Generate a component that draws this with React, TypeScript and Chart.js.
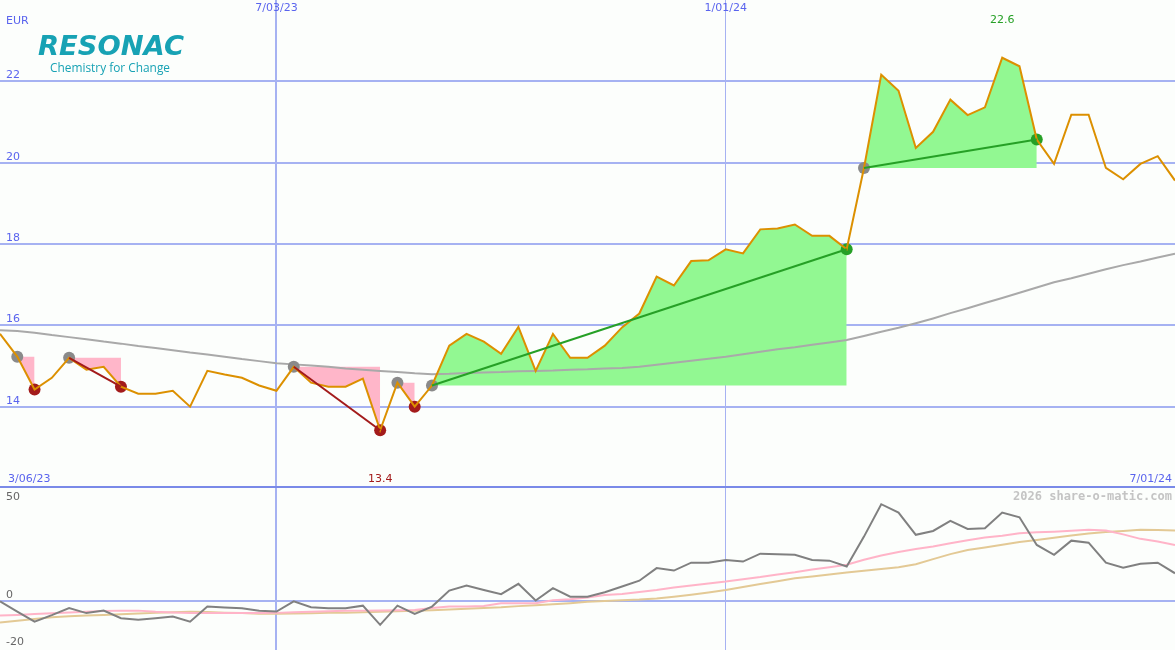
import { useEffect, useRef } from 'react';
import { Chart, registerables } from 'chart.js';

Chart.register(...registerables);

// ---------- data ----------
const firstWeek = '2023-03-13';
const weekCount = 69;
const categories: string[] = Array.from({ length: weekCount }, (_, i) => {
  const d = new Date(firstWeek + 'T00:00:00Z');
  d.setUTCDate(d.getUTCDate() + 7 * i);
  const m = d.getUTCMonth() + 1;
  const day = String(d.getUTCDate()).padStart(2, '0');
  const yy = String(d.getUTCFullYear() % 100).padStart(2, '0');
  return `${m}/${day}/${yy}`;
});

const price = [
  15.79, 15.23, 14.42, 14.71, 15.2, 14.91, 14.98, 14.49, 14.32, 14.32,
  14.39, 14.0, 14.88, 14.79, 14.71, 14.52, 14.39, 14.98, 14.59, 14.49,
  14.49, 14.69, 13.42, 14.59, 14.0, 14.52, 15.5, 15.79, 15.6, 15.3,
  15.96, 14.88, 15.79, 15.2, 15.2, 15.5, 15.95, 16.29, 17.2, 16.98,
  17.58, 17.6, 17.87, 17.77, 18.36, 18.38, 18.48, 18.2, 18.2, 17.87,
  19.87, 22.16, 21.77, 20.36, 20.76, 21.55, 21.17, 21.36, 22.58, 22.37,
  20.57, 19.97, 21.18, 21.18, 19.87, 19.59, 19.97, 20.16, 19.56,
];

const movingAvg = [
  15.88, 15.86, 15.82, 15.76, 15.71, 15.66, 15.6, 15.55, 15.49, 15.44,
  15.39, 15.33, 15.28, 15.23, 15.17, 15.12, 15.07, 15.04, 15.01, 14.98,
  14.94, 14.91, 14.88, 14.85, 14.82, 14.8, 14.81, 14.83, 14.84, 14.85,
  14.87, 14.88, 14.89, 14.91, 14.92, 14.94, 14.95, 14.98, 15.03, 15.08,
  15.13, 15.18, 15.23, 15.29, 15.35, 15.41, 15.46, 15.52, 15.58, 15.64,
  15.74, 15.84, 15.94, 16.05, 16.17, 16.3, 16.42, 16.55, 16.67, 16.8,
  16.93, 17.06, 17.16, 17.27, 17.38, 17.48, 17.57, 17.67, 17.76,
];

const momentum = [
  0, -4.5, -9.0, -6.1, -3.0, -5.2, -4.1, -7.5, -8.2, -7.5,
  -6.7, -9.0, -2.3, -2.7, -3.0, -4.2, -4.5, 0, -2.6, -3.0,
  -3.0, -1.9, -10.4, -1.9, -5.6, -2.3, 4.8, 7.0, 5.1, 3.2,
  7.8, 0.4, 5.9, 2.1, 2.1, 4.1, 6.6, 9.2, 14.8, 13.7,
  17.2, 17.2, 18.4, 17.7, 21.2, 21.0, 20.7, 18.4, 18.1, 15.5,
  28.8, 43.2, 39.5, 29.6, 31.3, 35.8, 32.2, 32.5, 39.5, 37.4,
  25.1, 20.7, 27.0, 26.1, 17.2, 15.0, 16.7, 17.2, 12.5,
];

const signalFast = [
  -6.3, -6.0, -5.6, -5.3, -4.9, -4.6, -4.3, -4.1, -4.1, -4.6,
  -4.9, -5.2, -5.2, -5.2, -5.2, -5.2, -5.1, -4.8, -4.6, -4.4,
  -4.2, -4.1, -4.0, -3.9, -3.8, -2.9, -2.3, -2.3, -2.0, -0.8,
  -0.8, -0.8, 0.5, 1.0, 1.7, 2.8, 3.3, 4.2, 5.1, 6.2,
  7.1, 8.0, 8.8, 9.8, 10.8, 12.0, 13.0, 14.2, 15.2, 16.3,
  18.5, 20.4, 22.0, 23.3, 24.4, 25.8, 27.2, 28.4, 29.2, 30.3,
  30.7, 31.0, 31.4, 31.8, 31.5, 29.8, 27.8, 26.6, 25.1,
];

const signalSlow = [
  -9.4, -8.6, -7.8, -7.0, -6.6, -6.3, -6.0, -5.7, -5.4, -5.1,
  -4.8, -4.6, -4.7, -5.0, -5.2, -5.5, -5.5, -5.4, -5.3, -5.1,
  -5.0, -4.8, -4.6, -4.4, -4.2, -3.9, -3.6, -3.3, -2.9, -2.6,
  -2.1, -1.7, -1.3, -0.8, -0.2, 0.2, 0.5, 0.8, 1.3, 2.1,
  3.0, 4.0, 5.1, 6.4, 7.7, 9.0, 10.3, 11.1, 12.0, 12.8,
  13.6, 14.4, 15.2, 16.5, 18.8, 21.0, 22.8, 24.0, 25.2, 26.4,
  27.3, 28.3, 29.3, 30.2, 30.8, 31.3, 31.8, 31.7, 31.5,
];

// falling and rising moves: [start index, end index]
const downMoves = [[1, 2], [4, 7], [17, 22], [23, 24]];
const upMoves = [[25, 49], [50, 60]];

const gridDates = ['7/03/23', '1/01/24'];
const rangeLabels = ['3/06/23', '7/01/24'];
const priceTicks = [14, 16, 18, 20, 22];
const oscTicks = [0];
const oscLabels = ['50', '0', '-20'];
const currency = 'EUR';
const logoName = 'RESONAC';
const logoTagline = 'Chemistry for Change';
const watermark = '2026 share-o-matic.com';

// ---------- styles ----------
const BG = '#fcfefc';
const GRID = '#a6b2f2';
const BLUE_TEXT = '#5a64ee';
const ORANGE = '#dc9000';
const GREEN_FILL = '#92f892';
const GREEN_LINE = '#26a026';
const PINK_FILL = '#ffb6c9';
const RED = '#a31b1b';
const DOT_GRAY = '#8a8a8a';
const MA_GRAY = '#a9a9a9';
const TEAL = '#17a2b4';
const FONT = '"DejaVu Sans", sans-serif';

const gridIdx = gridDates.map((d) => categories.indexOf(d));

const onSegment = (a: number, b: number) => price.map((v, i) => (i >= a && i <= b ? v : null));
const atEnds = (a: number, b: number) => price.map((v, i) => (i === a || i === b ? v : null));
const atIndices = (idx: number[]) => price.map((v, i) => (idx.includes(i) ? v : null));

const bgPlugin = {
  id: 'bg',
  beforeDraw(chart: any) {
    const { ctx, width, height } = chart;
    ctx.save();
    ctx.fillStyle = BG;
    ctx.fillRect(0, 0, width, height);
    ctx.restore();
  },
};

const xAxis = (widths: number[]) => ({
  type: 'category' as const,
  display: true,
  offset: false,
  ticks: { display: false },
  border: { display: false },
  grid: {
    drawTicks: false,
    offset: false,
    color: (c: any) => (gridIdx.includes(c.index) ? GRID : 'transparent'),
    lineWidth: (c: any) => {
      const k = gridIdx.indexOf(c.index);
      return k >= 0 ? widths[k] : 0;
    },
  },
});

export default function App() {
  const topRef = useRef<HTMLCanvasElement>(null);
  const botRef = useRef<HTMLCanvasElement>(null);

  useEffect(() => {
    const topOverlay = {
      id: 'topOverlay',
      afterDraw(chart: any) {
        const { ctx, width, height } = chart;
        const xs = chart.scales.x;
        const ys = chart.scales.y;
        ctx.save();
        ctx.font = `11px ${FONT}`;
        ctx.textBaseline = 'middle';
        ctx.fillStyle = BLUE_TEXT;
        ctx.textAlign = 'left';
        ctx.fillText(currency, 6, 21);
        priceTicks.forEach((v) => ctx.fillText(String(v), 6, ys.getPixelForValue(v) - 6));
        ctx.textAlign = 'center';
        gridDates.forEach((d) => {
          const i = categories.indexOf(d);
          ctx.fillText(d, xs.getPixelForValue(i), 8);
        });
        ctx.textAlign = 'left';
        ctx.fillText(rangeLabels[0], 8, height - 9);
        ctx.textAlign = 'right';
        ctx.fillText(rangeLabels[1], width - 3, height - 9);
        // min / max
        const minV = Math.min(...price);
        const maxV = Math.max(...price);
        ctx.textAlign = 'center';
        ctx.fillStyle = RED;
        ctx.fillText(minV.toFixed(1), xs.getPixelForValue(price.indexOf(minV)), height - 9);
        ctx.fillStyle = GREEN_LINE;
        ctx.fillText(maxV.toFixed(1), xs.getPixelForValue(price.indexOf(maxV)), 20);
        // separator
        ctx.fillStyle = '#7a8ae8';
        ctx.fillRect(0, height - 2, width, 2);
        // logo
        ctx.fillStyle = TEAL;
        ctx.textAlign = 'left';
        ctx.textBaseline = 'alphabetic';
        ctx.font = `italic bold 26px ${FONT}`;
        let w = ctx.measureText(logoName).width;
        ctx.save();
        ctx.translate(38, 55);
        ctx.scale(146 / w, 1);
        ctx.fillText(logoName, 0, 0);
        ctx.restore();
        ctx.font = `12px "Open Sans", ${FONT}`;
        w = ctx.measureText(logoTagline).width;
        ctx.save();
        ctx.translate(50, 72);
        ctx.scale(120 / w, 1);
        ctx.fillText(logoTagline, 0, 0);
        ctx.restore();
        ctx.restore();
      },
    };

    const botOverlay = {
      id: 'botOverlay',
      afterDraw(chart: any) {
        const { ctx, width, height } = chart;
        const ys = chart.scales.y;
        ctx.save();
        ctx.font = `11px ${FONT}`;
        ctx.textBaseline = 'middle';
        ctx.textAlign = 'left';
        ctx.fillStyle = '#666666';
        ctx.fillText(oscLabels[0], 6, 9);
        ctx.fillText(oscLabels[1], 6, ys.getPixelForValue(0) - 6);
        ctx.fillText(oscLabels[2], 6, height - 8);
        ctx.font = `bold 12px "DejaVu Sans Mono", monospace`;
        ctx.fillStyle = '#c4c4c4';
        ctx.textAlign = 'right';
        ctx.fillText(watermark, width - 3, 9);
        ctx.restore();
      },
    };

    const trendSets: any[] = [];
    downMoves.filter(([a, b]) => b - a > 1).forEach(([a, b]) =>
      trendSets.push({ data: atEnds(a, b), borderColor: RED, borderWidth: 2, pointRadius: 0, spanGaps: true, fill: false }),
    );
    upMoves.forEach(([a, b]) =>
      trendSets.push({ data: atEnds(a, b), borderColor: GREEN_LINE, borderWidth: 2, pointRadius: 0, spanGaps: true, fill: false }),
    );

    const dotSet = (idx: number[], color: string) => ({
      data: atIndices(idx),
      showLine: false,
      pointRadius: 6,
      pointBorderWidth: 0,
      pointBackgroundColor: color,
      pointBorderColor: color,
      borderColor: color,
      fill: false,
    });

    const fillSet = (a: number, b: number, color: string) => ({
      data: onSegment(a, b),
      fill: { value: price[a] },
      backgroundColor: color,
      borderColor: 'transparent',
      borderWidth: 0,
      pointRadius: 0,
      spanGaps: false,
    });

    const top = new Chart(topRef.current!, {
      type: 'line',
      data: {
        labels: categories,
        datasets: [
          ...trendSets,
          { data: price, borderColor: ORANGE, borderWidth: 2, pointRadius: 0, fill: false, tension: 0 },
          dotSet([...downMoves.map((m) => m[0]), ...upMoves.map((m) => m[0])], DOT_GRAY),
          dotSet(downMoves.map((m) => m[1]), RED),
          dotSet(upMoves.map((m) => m[1]), GREEN_LINE),
          { data: movingAvg, borderColor: MA_GRAY, borderWidth: 2, pointRadius: 0, fill: false },
          ...downMoves.map(([a, b]) => fillSet(a, b, PINK_FILL)),
          ...upMoves.map(([a, b]) => fillSet(a, b, GREEN_FILL)),
        ],
      },
      options: {
        responsive: false,
        animation: false,
        devicePixelRatio: 1,
        events: [],
        layout: { padding: 0, autoPadding: false },
        plugins: { legend: { display: false }, tooltip: { enabled: false } },
        scales: {
          x: xAxis([2, 1]),
          y: {
            type: 'linear',
            min: 12,
            max: 24,
            afterBuildTicks: (s: any) => {
              s.ticks = priceTicks.map((v) => ({ value: v }));
            },
            ticks: { display: false },
            border: { display: false },
            grid: { drawTicks: false, color: GRID, lineWidth: 2 },
          },
        },
      },
      plugins: [bgPlugin, topOverlay],
    } as any);

    const bot = new Chart(botRef.current!, {
      type: 'line',
      data: {
        labels: categories,
        datasets: [
          { data: momentum, borderColor: '#808080', borderWidth: 2, pointRadius: 0, fill: false },
          { data: signalFast, borderColor: '#ffb4c8', borderWidth: 2, pointRadius: 0, fill: false },
          { data: signalSlow, borderColor: '#e3c995', borderWidth: 2, pointRadius: 0, fill: false },
        ],
      },
      options: {
        responsive: false,
        animation: false,
        devicePixelRatio: 1,
        events: [],
        layout: { padding: 0, autoPadding: false },
        plugins: { legend: { display: false }, tooltip: { enabled: false } },
        scales: {
          x: xAxis([2, 1]),
          y: {
            type: 'linear',
            min: -21.6,
            max: 50.4,
            afterBuildTicks: (s: any) => {
              s.ticks = oscTicks.map((v) => ({ value: v }));
            },
            ticks: { display: false },
            border: { display: false },
            grid: { drawTicks: false, color: GRID, lineWidth: 2 },
          },
        },
      },
      plugins: [bgPlugin, botOverlay],
    } as any);

    return () => {
      top.destroy();
      bot.destroy();
    };
  }, []);

  return (
    <div style={{ position: 'absolute', left: 0, top: 0, width: 1175, height: 650, background: BG }}>
      <canvas ref={topRef} width={1175} height={488} style={{ position: 'absolute', left: 0, top: 0, display: 'block' }} />
      <canvas ref={botRef} width={1175} height={162} style={{ position: 'absolute', left: 0, top: 488, display: 'block' }} />
    </div>
  );
}
